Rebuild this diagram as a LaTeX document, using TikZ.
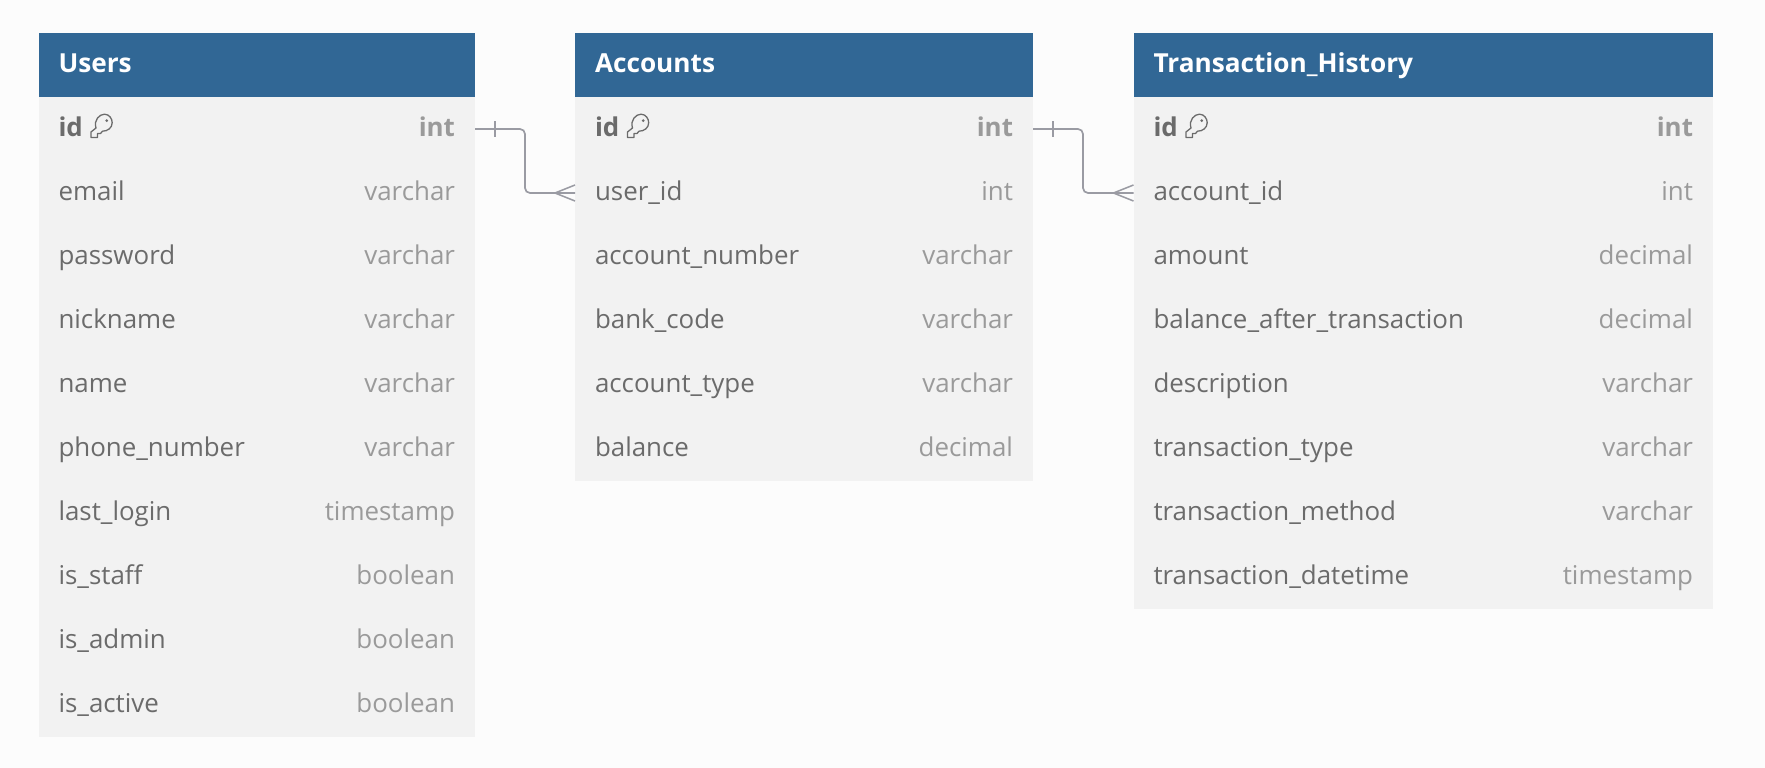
\documentclass[tikz,border=0pt]{standalone}
\usepackage{fontspec}
\setmainfont{Open Sans}
\usepackage{tikz}
\usetikzlibrary{calc}
\usetikzlibrary{positioning}
\definecolor{canvasbg}{HTML}{FCFCFC}
\definecolor{headblue}{HTML}{316795}
\definecolor{rowgray}{HTML}{F2F2F2}
\definecolor{nametext}{HTML}{6B6B6B}
\definecolor{typetext}{HTML}{9A9A9A}
\definecolor{relgray}{HTML}{9A9BA3}
\newcommand{\ctype}[1]{\hfill\textcolor{typetext}{#1}}

\begin{document}
\begin{tikzpicture}[
      x=1pt, y=-1pt, node distance=64pt, on grid,
      every node/.style={outer sep=0pt, font=\fontsize{25.9}{30}\selectfont},
      headbox/.style={rectangle, fill=headblue, text=white, minimum height=64pt, inner xsep=20pt, inner ysep=0pt, align=left, text height=18pt, text depth=3.5pt, font=\fontsize{26.2}{30}\selectfont\bfseries},
      rowbox/.style={rectangle, fill=rowgray, text=nametext, minimum height=64pt, inner xsep=20pt, inner ysep=0pt, align=left, text height=18pt, text depth=3pt},
      users/.style={text width=396.5pt},
      accounts/.style={text width=418pt},
      history/.style={text width=539.5pt},
      rel/.style={draw=relgray, line width=1.7pt, rounded corners=5pt},
      relmark/.style={draw=relgray, line width=1.5pt},
      pics/keyicon/.style={code={
        \draw[nametext, line width=1.3pt, line join=round]
          (-5.5,-1) .. controls (-8,-9) and (-2,-14.8) .. (3,-14.8)
          .. controls (8,-14.8) and (10.7,-10) .. (10.7,-6.3)
          .. controls (10.7,-1) and (6,2.2) .. (1,2.2)
          -- (-1,4.5) -- (-4,4.5) -- (-4,8.5) -- (-10.5,8.5) -- (-10.5,3) -- cycle;
        \fill[nametext] (5.2,-8.3) circle (1.5pt);
      }}]

      % Canvas
      \fill[canvasbg] (0,0) rectangle (1765,768);
      \useasboundingbox (0,0) rectangle (1765,768);

      % Users
      \node[headbox, users, anchor=north west] (userhead) at (38.5,33) {Users};
      \node[rowbox, users, below=of userhead] (u1) {\textbf{id}\ctype{\textbf{int}}};
      \node[rowbox, users, below=of u1] (u2) {email\ctype{varchar}};
      \node[rowbox, users, below=of u2] (u3) {password\ctype{varchar}};
      \node[rowbox, users, below=of u3] (u4) {nickname\ctype{varchar}};
      \node[rowbox, users, below=of u4] (u5) {name\ctype{varchar}};
      \node[rowbox, users, below=of u5] (u6) {phone\_number\ctype{varchar}};
      \node[rowbox, users, below=of u6] (u7) {last\_login\ctype{timestamp}};
      \node[rowbox, users, below=of u7] (u8) {is\_staff\ctype{boolean}};
      \node[rowbox, users, below=of u8] (u9) {is\_admin\ctype{boolean}};
      \node[rowbox, users, below=of u9] (u10) {is\_active\ctype{boolean}};

      % Accounts
      \node[headbox, accounts, anchor=north west] (acchead) at (575,33) {Accounts};
      \node[rowbox, accounts, below=of acchead] (a1) {\textbf{id}\ctype{\textbf{int}}};
      \node[rowbox, accounts, below=of a1] (a2) {user\_id\ctype{int}};
      \node[rowbox, accounts, below=of a2] (a3) {account\_number\ctype{varchar}};
      \node[rowbox, accounts, below=of a3] (a4) {bank\_code\ctype{varchar}};
      \node[rowbox, accounts, below=of a4] (a5) {account\_type\ctype{varchar}};
      \node[rowbox, accounts, below=of a5] (a6) {balance\ctype{decimal}};

      % Transaction_History
      \node[headbox, history, anchor=north west] (histhead) at (1133.5,33) {Transaction\_History};
      \node[rowbox, history, below=of histhead] (h1) {\textbf{id}\ctype{\textbf{int}}};
      \node[rowbox, history, below=of h1] (h2) {account\_id\ctype{int}};
      \node[rowbox, history, below=of h2] (h3) {amount\ctype{decimal}};
      \node[rowbox, history, below=of h3] (h4) {balance\_after\_transaction\ctype{decimal}};
      \node[rowbox, history, below=of h4] (h5) {description\ctype{varchar}};
      \node[rowbox, history, below=of h5] (h6) {transaction\_type\ctype{varchar}};
      \node[rowbox, history, below=of h6] (h7) {transaction\_method\ctype{varchar}};
      \node[rowbox, history, below=of h7] (h8) {transaction\_datetime\ctype{timestamp}};

      % Key icons
      \pic at ($(u1.west)+(63,0)$) {keyicon};
      \pic at ($(a1.west)+(63,0)$) {keyicon};
      \pic at ($(h1.west)+(63,0)$) {keyicon};

      % Edges
      \draw[rel] (u1.east) -- ++(50,0) |- (a2.west);
      \draw[rel] (a1.east) -- ++(50,0) |- (h2.west);

      %Marks
      \draw[relmark] ($(u1.east)+(20,-8)$) -- ($(u1.east)+(20,8)$);
      \draw[relmark] ($(a2.west)+(0,-8)$) -- ($(a2.west)+(-20,0)$) -- ($(a2.west)+(0,8)$);
      \draw[relmark] ($(a1.east)+(20,-8)$) -- ($(a1.east)+(20,8)$);
      \draw[relmark] ($(h2.west)+(0,-8)$) -- ($(h2.west)+(-20,0)$) -- ($(h2.west)+(0,8)$);

    \end{tikzpicture}
\end{document}
